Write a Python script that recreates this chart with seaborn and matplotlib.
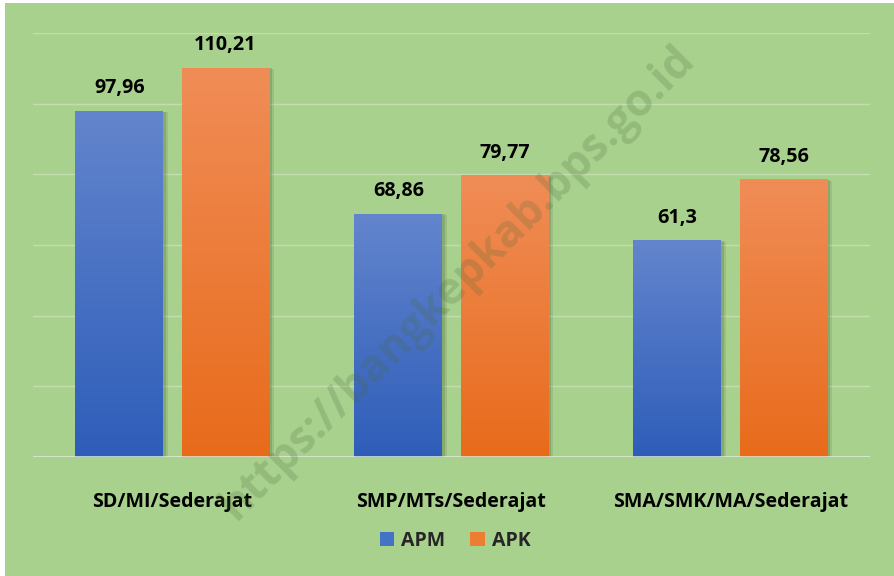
import numpy as np
import pandas as pd
import seaborn as sns
import matplotlib.pyplot as plt
import matplotlib.patheffects as pe
from matplotlib.patches import Rectangle
from matplotlib.colors import LinearSegmentedColormap

# ---- data ----
categories = ["SD/MI/Sederajat", "SMP/MTs/Sederajat", "SMA/SMK/MA/Sederajat"]
series = ["APM", "APK"]
apm = [97.96, 68.86, 61.3]
apk = [110.21, 79.77, 78.56]
apm_labels = ["97,96", "68,86", "61,3"]
apk_labels = ["110,21", "79,77", "78,56"]
watermark = "https://bangkepkab.bps.go.id"

df = pd.DataFrame({
    "Jenjang": categories * 2,
    "Nilai": apm + apk,
    "Seri": [series[0]] * len(apm) + [series[1]] * len(apk),
})

BG = "#a9d18e"
solid = {"APM": "#4472c4", "APK": "#ed7d31"}
grad = {
    "APM": ("#6385cd", "#2e5db9"),
    "APK": ("#f08d57", "#e86b1b"),
}

sns.set_theme(style="white")
plt.rcParams["font.family"] = ["Open Sans", "DejaVu Sans"]

W, H = 895, 576
fig = plt.figure(figsize=(W / 100, H / 100), dpi=100, facecolor="white")
fig.patches.append(Rectangle((5 / W, 0), 1, (H - 3) / H, transform=fig.transFigure,
                             facecolor=BG, edgecolor="none", zorder=-10))

x0, x1 = 33, 870
y_top, y_base = 33, 457
ax = fig.add_axes([x0 / W, (H - y_base) / H, (x1 - x0) / W, (y_base - y_top) / H])
ax.set_facecolor("none")

sns.barplot(data=df, x="Jenjang", y="Nilai", hue="Seri", order=categories,
            hue_order=series, palette=solid, width=0.76, gap=0.17,
            ax=ax, legend=False, zorder=3, linewidth=0, edgecolor="none")

ax.set_ylim(0, 120)
ax.set_xlim(-0.5, len(categories) - 0.5)

# gradient fill + soft shadow
for cont, name, labels in zip(ax.containers, series, [apm_labels, apk_labels]):
    cmap = LinearSegmentedColormap.from_list(name, [grad[name][1], grad[name][0]])
    for bar in cont:
        bar.set_path_effects([pe.SimplePatchShadow(offset=(3, -1), alpha=0.12,
                                                   shadow_rgbFace="#2f4526"),
                              pe.SimplePatchShadow(offset=(1.5, -0.5), alpha=0.18,
                                                   shadow_rgbFace="#2f4526"),
                              pe.Normal()])
        bx, by = bar.get_x(), bar.get_y()
        bw, bh = bar.get_width(), bar.get_height()
        g = np.linspace(0, 1, 256).reshape(-1, 1)
        im = ax.imshow(g, cmap=cmap, origin="lower", aspect="auto",
                       extent=[bx, bx + bw, by, by + bh], zorder=4)
        im.set_clip_path(bar)
    ax.bar_label(cont, labels=labels, padding=9, fontsize=14.2,
                 fontweight="bold", color="black", zorder=6)

ax.set_ylim(0, 120)
ax.set_xlim(-0.5, len(categories) - 0.5)

# grid and baseline
ax.set_yticks(np.arange(20, 121, 20))
ax.yaxis.grid(True, color="white", alpha=0.3, lw=1.0, zorder=0)
ax.xaxis.grid(False)
ax.axhline(0, color="#e3eedb", lw=1.8, zorder=5)
ax.tick_params(axis="y", left=False, labelleft=False)
ax.tick_params(axis="x", bottom=False, pad=19)
for lbl in ax.get_xticklabels():
    lbl.set_fontsize(14.1)
    lbl.set_fontweight("bold")
    lbl.set_color("black")
ax.set_xlabel("")
ax.set_ylabel("")
for s in ax.spines.values():
    s.set_visible(False)

# legend
handles = [Rectangle((0, 0), 1, 1, facecolor=solid[s], edgecolor="none") for s in series]
fig.legend(handles, series, loc="center", bbox_to_anchor=(455 / W, 1 - 541 / H),
           ncol=2, frameon=False, handlelength=0.75, handleheight=0.75,
           handletextpad=0.35, columnspacing=1.3,
           prop={"weight": "bold", "size": 14})

# watermark
fig.text(458 / W, 1 - 283 / H, watermark, rotation=45, rotation_mode="anchor",
         ha="center", va="center", fontsize=32, fontweight="bold",
         color="#4a6a3a", alpha=0.22, zorder=20)

fig.savefig("out.png", dpi=100, facecolor=fig.get_facecolor())
